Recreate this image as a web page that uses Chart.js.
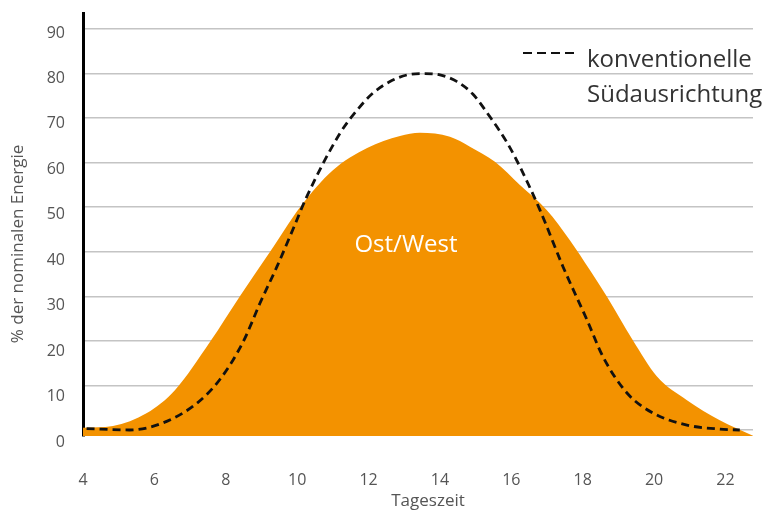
<!DOCTYPE html>
<html>
<head>
<meta charset="utf-8">
<script src="https://cdn.jsdelivr.net/npm/chart.js@4.4.1/dist/chart.umd.min.js"></script>
<style>
  html, body { margin: 0; padding: 0; background: #fff; }
</style>
</head>
<body>
<canvas id="chart" width="765" height="516"></canvas>
<script>
// Ost/West (orange area)
const ostWestHours = [4.0, 4.84, 5.79, 6.58, 7.56, 8.4, 9.24, 10.08, 11.0, 11.96, 12.88, 13.44, 14.28, 14.84, 15.54, 16.24, 16.99, 17.64, 18.2, 18.68, 19.4, 20.08, 20.92, 21.84, 22.77];
const ostWestValues = [0.5, 0.9, 3.8, 9.0, 19.8, 30.1, 40.0, 50.0, 58.3, 63.3, 66.0, 66.7, 65.8, 63.6, 60.2, 55.0, 49.4, 42.6, 35.9, 29.9, 20.2, 12.0, 6.7, 2.2, -1.3];

// konventionelle Südausrichtung (dashed line)
const suedHours = [4.1, 5.3, 6.24, 7.19, 7.85, 8.5, 8.96, 9.43, 9.88, 10.27, 11.2, 11.68, 12.12, 12.6, 13.08, 13.52, 14.0, 14.48, 14.92, 15.4, 15.88, 16.24, 16.8, 17.45, 18.12, 18.57, 19.24, 19.97, 20.92, 21.84, 22.4];
const suedValues = [0.3, 0.0, 1.6, 6.0, 11.5, 20.0, 28.5, 36.6, 45.0, 52.4, 66.6, 71.8, 75.6, 78.2, 79.7, 80.0, 79.7, 78.2, 75.4, 70.3, 64.5, 59.1, 49.4, 36.6, 24.7, 16.4, 8.3, 3.8, 1.1, 0.2, 0.0];

const xTicks = [4, 6, 8, 10, 12, 14, 16, 18, 20, 22];
const yTicks = [0, 10, 20, 30, 40, 50, 60, 70, 80, 90];

const toPoints = (xs, ys) => xs.map((x, i) => ({ x: x, y: ys[i] }));
const fontFamily = '"Open Sans", "Noto Sans", sans-serif';
const tickFont = { family: fontFamily, size: 16 };

const textPlugin = {
  id: 'texts',
  afterDraw(chart) {
    const ctx = chart.ctx;
    ctx.save();
    ctx.fillStyle = '#555';
    ctx.font = '17px ' + fontFamily;
    ctx.textAlign = 'center';
    ctx.textBaseline = 'middle';
    ctx.fillText('Tageszeit', 428, 501);
    ctx.save();
    ctx.translate(18, 244);
    ctx.rotate(-Math.PI / 2);
    ctx.fillText('% der nominalen Energie', 0, 0);
    ctx.restore();

    // Ost/West label inside the area
    ctx.fillStyle = '#fff';
    ctx.font = '24px ' + fontFamily;
    ctx.fillText('Ost/West', 406, 245);

    // legend
    ctx.fillStyle = '#333';
    ctx.textAlign = 'left';
    ctx.textBaseline = 'alphabetic';
    ctx.font = '24px ' + fontFamily;
    ctx.fillText('konventionelle', 587, 67);
    ctx.fillText('Südausrichtung', 587, 102);
    ctx.strokeStyle = '#111';
    ctx.lineWidth = 2.2;
    ctx.setLineDash([9, 5]);
    ctx.beginPath();
    ctx.moveTo(523, 53);
    ctx.lineTo(576, 53);
    ctx.stroke();
    ctx.restore();
  }
};

new Chart(document.getElementById('chart').getContext('2d'), {
  type: 'line',
  data: {
    datasets: [{
      label: 'konventionelle Südausrichtung',
      data: toPoints(suedHours, suedValues),
      borderColor: '#111',
      borderWidth: 2.8,
      borderDash: [8, 5],
      pointRadius: 0,
      fill: false,
      cubicInterpolationMode: 'monotone',
      order: 0
    }, {
      label: 'Ost/West',
      data: toPoints(ostWestHours, ostWestValues),
      borderWidth: 0,
      borderColor: 'rgba(0,0,0,0)',
      backgroundColor: '#F39200',
      pointRadius: 0,
      fill: 'start',
      cubicInterpolationMode: 'monotone',
      order: 1
    }]
  },
  options: {
    responsive: false,
    animation: false,
    layout: { autoPadding: false, padding: { top: 13, right: 12, left: 0, bottom: 0 } },
    plugins: {
      legend: { display: false },
      tooltip: { enabled: false }
    },
    scales: {
      x: {
        type: 'linear',
        min: 4,
        max: 22.77,
        afterBuildTicks: scale => { scale.ticks = xTicks.map(v => ({ value: v })); },
        afterFit: scale => {
          scale.height = 80;
          scale.paddingLeft = 0;
          scale.paddingRight = 0;
        },
        grid: { display: false },
        border: { display: false },
        ticks: {
          autoSkip: false,
          maxRotation: 0,
          padding: 27,
          color: '#555',
          font: tickFont
        }
      },
      y: {
        min: -1.35,
        max: 93.6,
        weight: 0,
        afterBuildTicks: scale => { scale.ticks = yTicks.map(v => ({ value: v })); },
        afterFit: scale => { scale.width = 0; },
        grid: { color: '#c4c4c4', lineWidth: 1.5, drawTicks: false },
        border: { display: true, color: '#000', width: 3 },
        ticks: { display: false }
      },
      yLabels: {
        position: 'left',
        min: 0,
        max: 93.09,
        weight: 1,
        afterBuildTicks: scale => { scale.ticks = yTicks.map(v => ({ value: v })); },
        afterFit: scale => {
          scale.width = 83;
          scale.paddingTop = 0;
          scale.paddingBottom = 0;
        },
        grid: { display: false, drawTicks: false },
        border: { display: false },
        ticks: {
          labelOffset: 6,
          padding: 18,
          color: '#555',
          font: tickFont
        }
      }
    }
  },
  plugins: [textPlugin]
});
</script>
</body>
</html>
